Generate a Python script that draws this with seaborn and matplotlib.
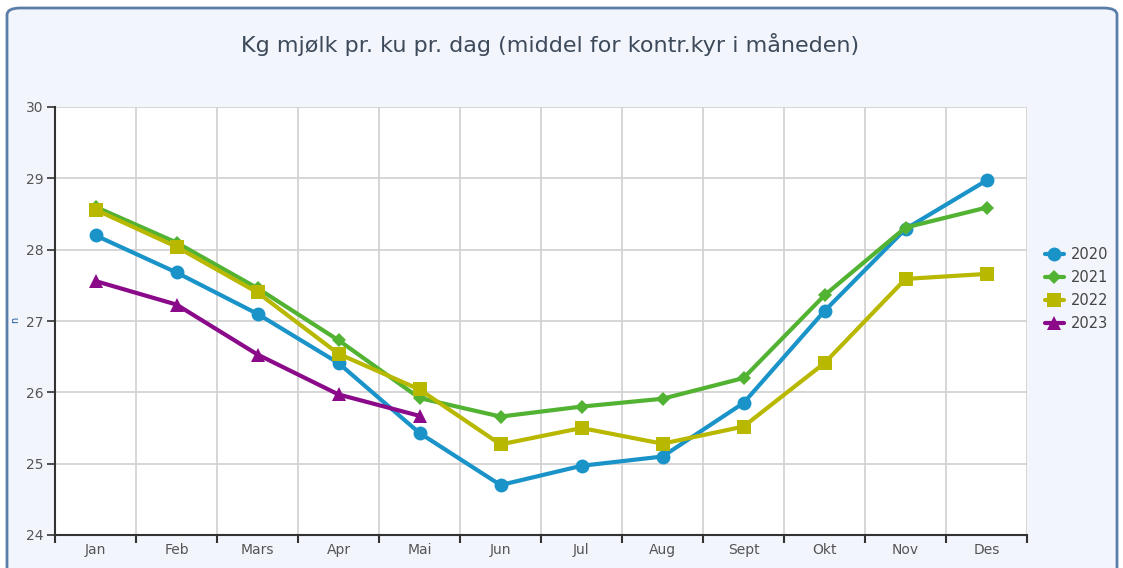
import pandas as pd
import numpy as np
import matplotlib.pyplot as plt
from matplotlib.patches import FancyBboxPatch
import seaborn as sns

# Données
mois = ["Jan", "Feb", "Mars", "Apr", "Mai", "Jun", "Jul", "Aug", "Sept", "Okt", "Nov", "Des"]
kg_2020 = [28.20, 27.68, 27.10, 26.41, 25.43, 24.70, 24.97, 25.10, 25.85, 27.14, 28.29, 28.97]
kg_2021 = [28.60, 28.10, 27.46, 26.73, 25.92, 25.66, 25.80, 25.91, 26.20, 27.36, 28.31, 28.59]
kg_2022 = [28.56, 28.04, 27.40, 26.54, 26.04, 25.27, 25.50, 25.28, 25.52, 26.41, 27.59, 27.66]
kg_2023 = [27.56, 27.23, 26.53, 25.97, 25.67]
annees = ["2020", "2021", "2022", "2023"]

series = {"2020": kg_2020, "2021": kg_2021, "2022": kg_2022, "2023": kg_2023}
lignes = []
for an in annees:
    for i, v in enumerate(series[an]):
        lignes.append({"Mois": i, "Kg": v, "År": an})
df = pd.DataFrame(lignes)

couleurs = {"2020": "#1a93c9", "2021": "#52b232", "2022": "#b8b800", "2023": "#8a0a8a"}
marqueurs = {"2020": "o", "2021": "D", "2022": "s", "2023": "^"}
tailles = {"2020": 10, "2021": 7, "2022": 10, "2023": 10}

sns.set_style("white")
plt.rcParams["font.family"] = ["DejaVu Sans"]

fig = plt.figure(figsize=(11.23, 5.68), dpi=100)
fig.patch.set_facecolor("#ffffff")

# Cadre arrondi
cadre = FancyBboxPatch((7 / 1123, -0.05), 1110 / 1123, 1 - 8 / 568 + 0.05,
                       boxstyle="round,pad=0,rounding_size=0.012",
                       transform=fig.transFigure, facecolor="#f3f5fd",
                       edgecolor="#5a7ea8", linewidth=2, zorder=-10)
fig.patches.append(cadre)

ax = fig.add_axes([55 / 1123, 33 / 568, 972 / 1123, 428 / 568])
ax.set_zorder(1)
ax.set_facecolor("white")

for an in annees:
    sous = df[df["År"] == an]
    sns.lineplot(data=sous, x="Mois", y="Kg", ax=ax, color=couleurs[an],
                 marker=marqueurs[an], markersize=tailles[an], markeredgewidth=0,
                 linewidth=3, label=an, zorder=3)

ax.set_xlim(-0.5, 11.5)
ax.set_ylim(24, 30)
ax.set_yticks(range(24, 31))
ax.set_xticks(range(12))
ax.set_xticklabels(mois)
ax.set_xticks(np.arange(-0.5, 12, 1), minor=True)
ax.tick_params(axis="x", which="major", bottom=False, length=0, pad=6,
               labelsize=10, labelcolor="#555555")
ax.tick_params(axis="x", which="minor", bottom=True, length=6, width=1.5,
               color="#333333", direction="out")
ax.tick_params(axis="y", which="major", left=True, length=6, width=1.2, color="#333333",
               labelsize=10, labelcolor="#555555", pad=2, direction="out")
ax.grid(axis="y", color="#d0d0d0", linewidth=1.2)
ax.grid(axis="x", which="minor", color="#d0d0d0", linewidth=1.2)
ax.set_xlabel("")
ax.set_ylabel("")
for side in ["top", "right"]:
    ax.spines[side].set_visible(False)
ax.spines["left"].set_color("#333333")
ax.spines["left"].set_linewidth(1.5)
ax.spines["bottom"].set_color("#333333")
ax.spines["bottom"].set_linewidth(1.5)

leg = ax.legend(loc="center left", bbox_to_anchor=(1.005, 0.575), frameon=False,
                fontsize=10.5, handlelength=1.3, handletextpad=0.5, labelspacing=0.55,
                markerscale=1.0)
for t in leg.get_texts():
    t.set_color("#444444")
for h in leg.get_lines():
    h.set_linewidth(3)

fig.text(550 / 1123, 1 - 45 / 568, "Kg mjølk pr. ku pr. dag (middel for kontr.kyr i måneden)",
         ha="center", va="center", fontsize=16, color="#3d4a5a")
fig.text(15 / 1123, 1 - 320 / 568, "n", ha="center", va="center", fontsize=7,
         color="#1a5a9a", rotation=90)

fig.savefig("out.png", dpi=100, facecolor=fig.get_facecolor())
